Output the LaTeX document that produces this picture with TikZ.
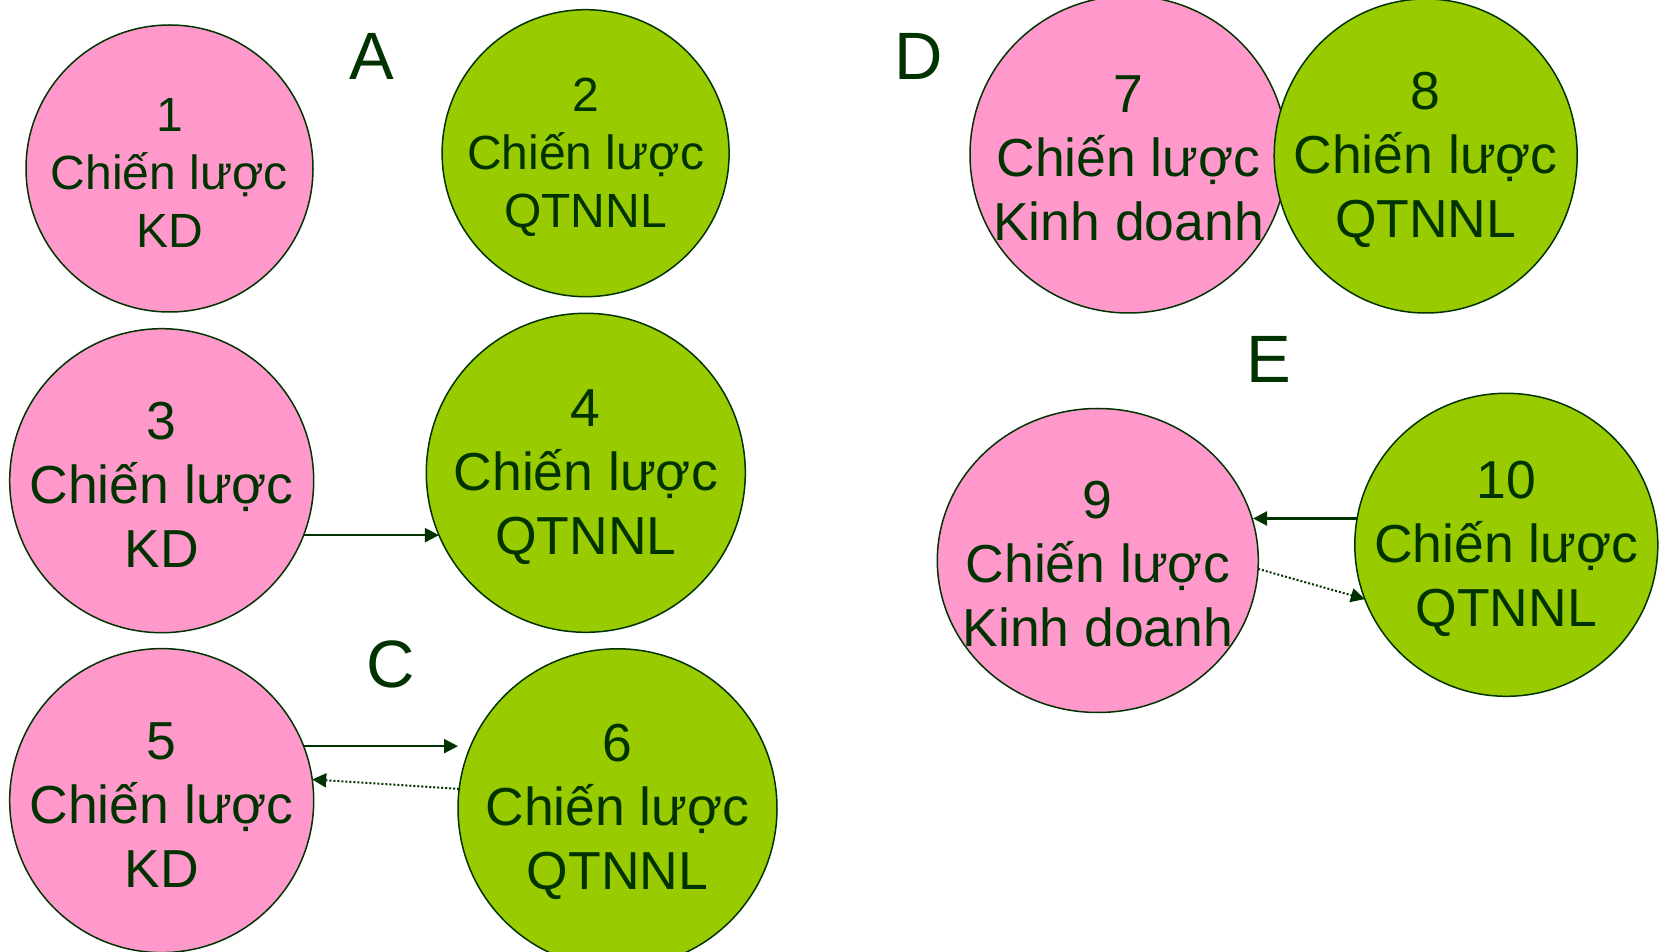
\documentclass[tikz,border=0pt]{standalone}
\usepackage{fontspec}
\setmainfont{Liberation Sans}
\usetikzlibrary{arrows.meta,shapes.geometric}
\definecolor{ink}{HTML}{003300}
\definecolor{rose}{HTML}{FF99CC}
\definecolor{leaf}{HTML}{99CC00}
\tikzset{
  rim/.style={draw=ink, line width=1.5pt, inner sep=0pt, outer sep=0pt},
  kd/.style={circle, rim, fill=rose},
  hr/.style={circle, rim, fill=leaf},
  kdoval/.style={ellipse, rim, fill=rose},
  hroval/.style={ellipse, rim, fill=leaf},
  smalltxt/.style={text=ink, align=center, inner sep=0pt, font=\fontsize{48}{58}\selectfont},
  bigtxt/.style={text=ink, align=center, inner sep=0pt, font=\fontsize{53.5}{64}\selectfont},
  tag/.style={text=ink, inner sep=0pt, font=\fontsize{67}{67}\selectfont},
  link/.style={draw=ink, line width=2.2pt, -{Triangle[length=14pt,width=14pt]}},
  hint/.style={link, line width=2pt, dash pattern=on 2pt off 2pt},
}
\begin{document}
\begin{tikzpicture}[x=1pt,y=1pt]
\useasboundingbox (0,0) rectangle (1662,951);

% discs
\node[kd, minimum size=287pt] (n1) at (169.5,782.5) {};
\node[hr, minimum size=287pt] (n2) at (585.6,797.8) {};
\node[kd, minimum size=304pt] (n3) at (161.7,470.3) {};
\node[hr, minimum size=319pt] (n4) at (585.8,478.2) {};
\node[kd, minimum size=304pt] (n5) at (161.7,150.4) {};
\node[hr, minimum size=319pt] (n6) at (617.5,142.7) {};
\node[kd, minimum size=317pt] (n7) at (1128.5,796.5) {};
\node[hroval, minimum width=303pt, minimum height=314pt] (n8) at (1425.7,795) {};
\node[kdoval, minimum width=321pt, minimum height=304pt] (n9) at (1097.8,390.5) {};
\node[hr, minimum size=303pt] (n10) at (1506.3,406.2) {};

% disc texts
\node[smalltxt] (t1) at ([yshift=-4pt]n1.center) {1\\Chiến lược\\KD};
\node[smalltxt] (t2) at ([yshift=-4pt]n2.center) {2\\Chiến lược\\QTNNL};
\node[bigtxt] (t3) at ([yshift=-4pt]n3.center) {3\\Chiến lược\\KD};
\node[bigtxt] (t4) at ([yshift=-4pt]n4.center) {4\\Chiến lược\\QTNNL};
\node[bigtxt] (t5) at ([yshift=-4pt]n5.center) {5\\Chiến lược\\KD};
\node[bigtxt] (t6) at ([yshift=-4pt]n6.center) {6\\Chiến lược\\QTNNL};
\node[bigtxt] (t7) at ([yshift=-4pt]n7.center) {7\\Chiến lược\\Kinh doanh};
\node[bigtxt] (t8) at ([yshift=-4pt]n8.center) {8\\Chiến lược\\QTNNL};
\node[bigtxt] (t9) at ([yshift=-4pt]n9.center) {9\\Chiến lược\\Kinh doanh};
\node[bigtxt] (t10) at ([yshift=-4pt]n10.center) {10\\Chiến lược\\QTNNL};

% group letters
\node[tag] (lA) at (372,895) {A};
\node[tag] (lD) at (919,895) {D};
\node[tag] (lC) at (391,287) {C};
\node[tag] (lE) at (1269,591.3) {E};

% connectors (solid ones kept level)
\draw[link] (n3.-21.3) -- (n3.-21.3 -| n4.203.3);
\draw[link] (n5.21.5) -- (n5.21.5 -| n6.west);
\draw[hint] (n6.173.8) -- (n5.8.9);
\draw[link] (n10.170.6) -- (n10.170.6 -| n9.14.7);
\draw[hint] (n9.-3.75) -- (n10.201.4);
\end{tikzpicture}
\end{document}
